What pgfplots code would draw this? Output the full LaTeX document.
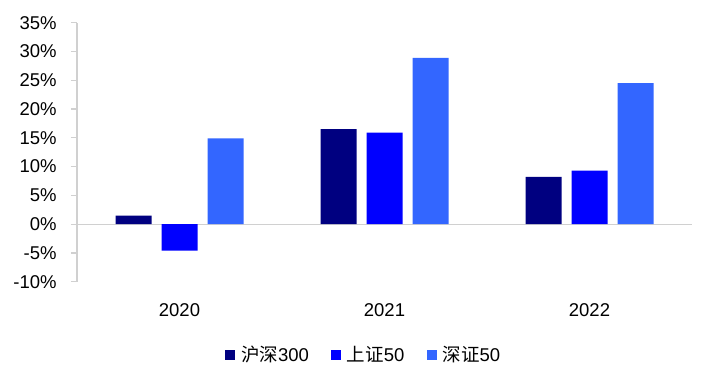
\documentclass[border=0pt]{standalone}
\usepackage{pgfplots}
\pgfplotsset{compat=1.18}
\usepackage{fontspec}
\setmainfont{Liberation Sans}
\newfontfamily\cjk{Noto Sans CJK SC}
\definecolor{cA}{HTML}{000080}
\definecolor{cB}{HTML}{0000FF}
\definecolor{cC}{HTML}{3366FF}
\definecolor{axgray}{HTML}{D0D0D0}
\begin{document}
\fontsize{18.5bp}{22bp}\selectfont
\begin{tikzpicture}
\useasboundingbox (0,0) rectangle (702bp,375bp);
\begin{axis}[
  at={(77bp,93.3bp)}, anchor=south west,
  width=615bp, height=259bp, scale only axis,
  xmin=-0.5, xmax=2.5, ymin=-10, ymax=35,
  ybar=10bp, bar width=36bp,
  xtick={0,1,2}, xticklabels={2020,2021,2022},
  ytick={-10,-5,...,35},
  yticklabel={\pgfmathprintnumber{\tick}\%},
  /pgf/number format/assume math mode=true,
  axis x line*=bottom,
  x axis line style={draw=none},
  axis y line*=left,
  y axis line style={axgray, line width=1.2bp, -},
  ytick style={axgray, line width=1.2bp},
  tick align=outside, major tick length=6bp,
  xtick style={draw=none},
  xticklabel style={yshift=-10bp},
  yticklabel style={xshift=-8bp},
  ticklabel style={font=\fontsize{18.5bp}{22bp}\selectfont},
  clip=false,
  legend columns=3,
  legend style={draw=none, fill=none, at={(0.466,-0.283)}, anchor=center,
    font=\fontsize{18.5bp}{22bp}\selectfont,
    /tikz/every even column/.append style={column sep=20bp},
    /tikz/every odd column/.append style={column sep=4bp}},
  legend image code/.code={\fill[#1] (0bp,-5bp) rectangle (10bp,5bp);},
]
\draw[axgray, line width=1.2bp] (axis cs:-0.5,0) -- (axis cs:2.5,0);
\addplot[fill=cA, draw=none] coordinates {(0,1.5) (1,16.5) (2,8.2)};
\addplot[fill=cB, draw=none] coordinates {(0,-4.6) (1,15.9) (2,9.3)};
\addplot[fill=cC, draw=none] coordinates {(0,14.9) (1,28.9) (2,24.5)};
\legend{{\cjk 沪深}300, {\cjk 上证}50, {\cjk 深证}50}
\end{axis}
\end{tikzpicture}
\end{document}
